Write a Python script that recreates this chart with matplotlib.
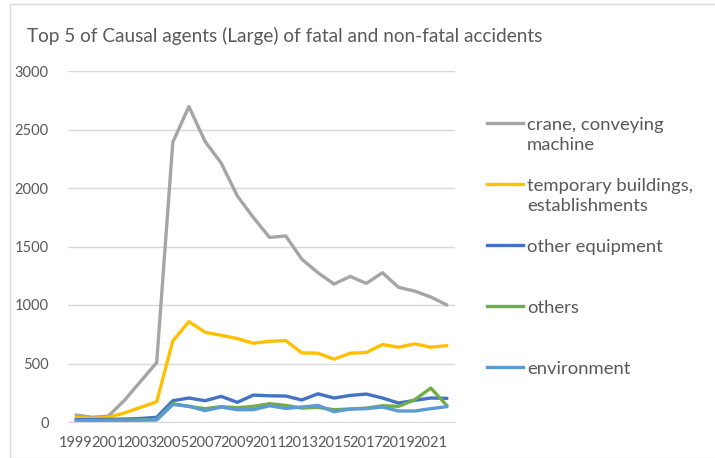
import matplotlib
matplotlib.use("Agg")
import matplotlib.pyplot as plt
from matplotlib.lines import Line2D
from matplotlib.patches import Rectangle

plt.rcParams['font.family'] = ['Lato', 'DejaVu Sans']

years = list(range(1999, 2023))
crane = [60, 40, 50, 185, 347, 508, 2392, 2696, 2398, 2213, 1932, 1747, 1577, 1591,
         1392, 1276, 1179, 1244, 1185, 1276, 1151, 1119, 1068, 1000]
temporary = [40, 30, 40, 77, 125, 173, 693, 858, 767, 741, 713, 673, 690, 696,
             591, 588, 537, 588, 594, 662, 639, 668, 639, 653]
other_equipment = [20, 20, 22, 25, 30, 40, 182, 205, 182, 219, 168, 230, 224, 222,
                   188, 241, 205, 227, 239, 205, 162, 185, 205, 202]
others = [12, 12, 14, 15, 18, 20, 156, 134, 114, 131, 122, 134, 156, 142,
          119, 125, 105, 111, 119, 139, 134, 190, 290, 140]
environment = [10, 10, 12, 14, 16, 18, 150, 134, 97, 128, 105, 105, 139, 116,
               128, 142, 88, 111, 114, 128, 94, 94, 114, 131]

series = [
    ("crane, conveying\nmachine", crane, "#A5A5A5"),
    ("temporary buildings,\nestablishments", temporary, "#FFC000"),
    ("other equipment", other_equipment, "#4472C4"),
    ("others", others, "#70AD47"),
    ("environment", environment, "#5B9BD5"),
]

W, H = 715, 458
fig = plt.figure(figsize=(W / 100, H / 100), dpi=100)
fig.patch.set_facecolor("white")

# outer chart border
fig.add_artist(Rectangle((10 / W, 0), 1.2, (H - 4) / H, transform=fig.transFigure,
                         fill=False, edgecolor="#D9D9D9", linewidth=1.0))

ax = fig.add_axes([68 / W, (H - 422) / H, (455 - 68) / W, (422 - 71) / H])
x = list(range(len(years)))
for label, vals, color in series:
    ax.plot(x, vals, color=color, linewidth=2.4, solid_joinstyle="round",
            solid_capstyle="round")

ax.set_xlim(-0.5, len(years) - 0.5)
ax.set_ylim(0, 3000)
ax.set_yticks(range(0, 3001, 500))
ax.set_xticks(x[::2])
ax.set_xticklabels([str(y) for y in years[::2]])
ax.grid(axis="y", color="#D9D9D9", linewidth=1.0)
ax.set_axisbelow(True)
for s in ["top", "right", "left"]:
    ax.spines[s].set_visible(False)
ax.spines["bottom"].set_color("#D9D9D9")
ax.tick_params(axis="both", length=0, colors="#595959", labelsize=10.5)
ax.tick_params(axis="y", pad=14)
ax.tick_params(axis="x", pad=10)

fig.text(27 / W, 1 - 36 / H,
         "Top 5 of Causal agents (Large) of fatal and non-fatal accidents",
         fontsize=13.7, color="#595959", va="center", ha="left")

# legend
leg_y = [123, 184, 245, 306, 367]
for (label, vals, color), yy in zip(series, leg_y):
    fy = 1 - yy / H
    fig.add_artist(Line2D([487 / W, 523 / W], [fy, fy], transform=fig.transFigure,
                          color=color, linewidth=2.4))
    fig.text(527 / W, fy + 6 / H, label, fontsize=13.3, color="#595959",
             va="top", ha="left", linespacing=1.32)

fig.savefig("out.png", dpi=100)
